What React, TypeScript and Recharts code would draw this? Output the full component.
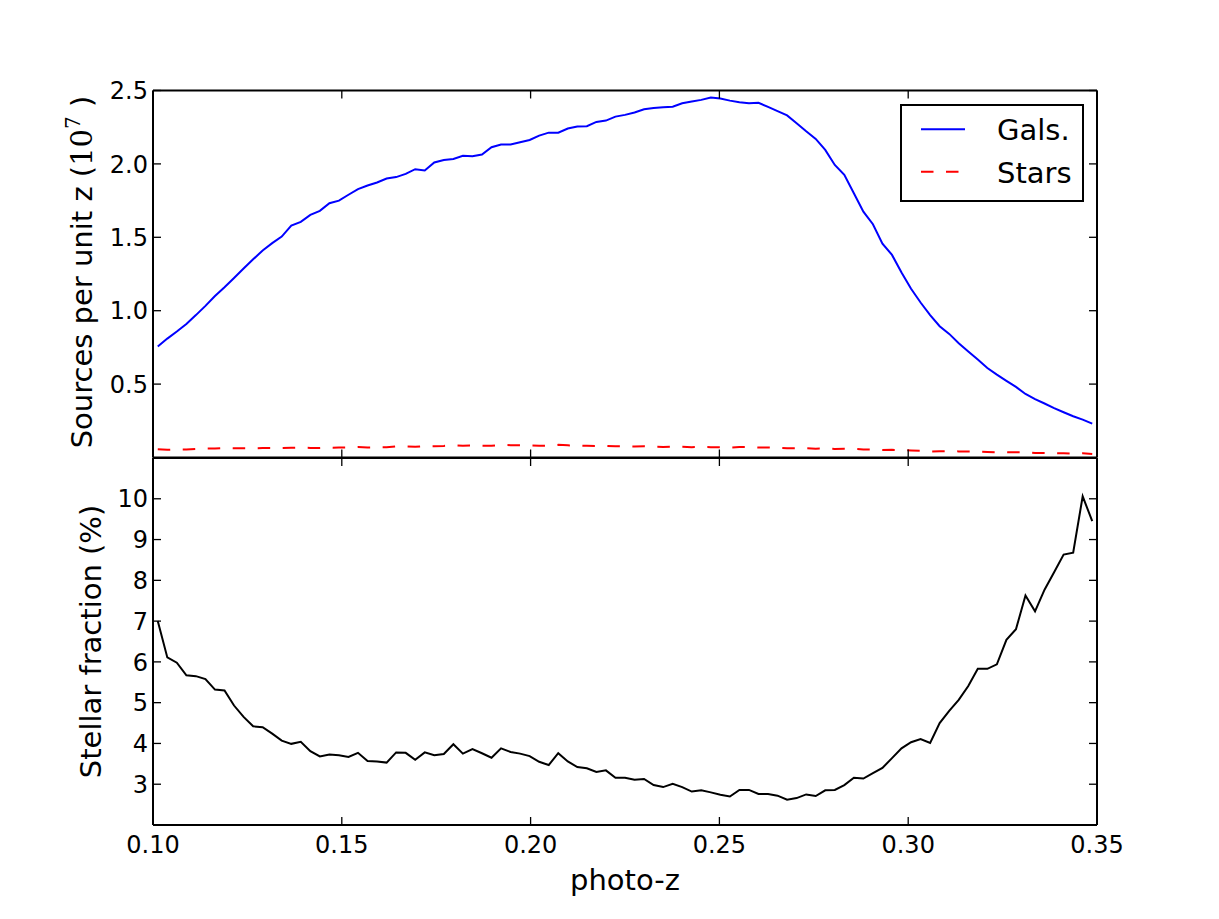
import React from 'react';
import { LineChart, Line, XAxis, YAxis, Legend } from 'recharts';

// photo-z bin centres
const PHOTO_Z = [
  0.10126, 0.10379, 0.10631, 0.10884, 0.11136, 0.11389, 0.11641, 0.11894, 0.12146, 0.12399,
  0.12652, 0.12904, 0.13157, 0.13409, 0.13662, 0.13914, 0.14167, 0.14419, 0.14672, 0.14924,
  0.15177, 0.15429, 0.15682, 0.15934, 0.16187, 0.16439, 0.16692, 0.16944, 0.17197, 0.17449,
  0.17702, 0.17955, 0.18207, 0.1846, 0.18712, 0.18965, 0.19217, 0.1947, 0.19722, 0.19975,
  0.20227, 0.2048, 0.20732, 0.20985, 0.21237, 0.2149, 0.21742, 0.21995, 0.22247, 0.225,
  0.22753, 0.23005, 0.23258, 0.2351, 0.23763, 0.24015, 0.24268, 0.2452, 0.24773, 0.25025,
  0.25278, 0.2553, 0.25783, 0.26035, 0.26288, 0.2654, 0.26793, 0.27045, 0.27298, 0.27551,
  0.27803, 0.28056, 0.28308, 0.28561, 0.28813, 0.29066, 0.29318, 0.29571, 0.29823, 0.30076,
  0.30328, 0.30581, 0.30833, 0.31086, 0.31338, 0.31591, 0.31843, 0.32096, 0.32348, 0.32601,
  0.32854, 0.33106, 0.33359, 0.33611, 0.33864, 0.34116, 0.34369, 0.34621, 0.34874,
];

// Sources per unit z (1e7)
const GALS = [
  0.756, 0.81, 0.858, 0.91, 0.97, 1.033, 1.1, 1.16, 1.223, 1.287,
  1.35, 1.41, 1.46, 1.505, 1.58, 1.605, 1.653, 1.68, 1.732, 1.75,
  1.79, 1.828, 1.853, 1.873, 1.9, 1.91, 1.932, 1.964, 1.955, 2.01,
  2.027, 2.034, 2.055, 2.052, 2.064, 2.114, 2.132, 2.132, 2.148, 2.163,
  2.193, 2.213, 2.213, 2.241, 2.254, 2.257, 2.286, 2.295, 2.322, 2.334,
  2.35, 2.372, 2.381, 2.386, 2.39, 2.413, 2.425, 2.436, 2.452, 2.445,
  2.431, 2.42, 2.413, 2.416, 2.388, 2.359, 2.33, 2.277, 2.222, 2.17,
  2.095, 1.993, 1.925, 1.8, 1.675, 1.589, 1.457, 1.38, 1.26, 1.149,
  1.056, 0.97, 0.894, 0.842, 0.778, 0.722, 0.667, 0.61, 0.565, 0.522,
  0.481, 0.433, 0.397, 0.368, 0.336, 0.308, 0.281, 0.258, 0.231,
];

const STARS = [
  0.0569, 0.0527, 0.0546, 0.0547, 0.0581, 0.061, 0.0618, 0.0649, 0.0634, 0.0628,
  0.0624, 0.0649, 0.0646, 0.0639, 0.0657, 0.0676, 0.0655, 0.0642, 0.0671, 0.0674,
  0.0682, 0.0716, 0.0686, 0.0691, 0.0695, 0.075, 0.0757, 0.0733, 0.0768, 0.0774,
  0.0788, 0.0843, 0.0801, 0.0824, 0.0806, 0.0801, 0.0861, 0.084, 0.0837, 0.0829,
  0.0807, 0.0796, 0.0865, 0.0827, 0.0798, 0.0792, 0.078, 0.0793, 0.0758, 0.0762,
  0.0754, 0.0766, 0.0731, 0.072, 0.0742, 0.0728, 0.0704, 0.0715, 0.0706, 0.0689,
  0.0675, 0.0712, 0.071, 0.0686, 0.0678, 0.066, 0.0627, 0.0622, 0.0628, 0.0604,
  0.0615, 0.0587, 0.0591, 0.0587, 0.0543, 0.0537, 0.0513, 0.0521, 0.0509, 0.0482,
  0.0453, 0.0405, 0.0421, 0.0425, 0.0416, 0.0413, 0.0413, 0.0378, 0.0357, 0.0365,
  0.0351, 0.0358, 0.031, 0.031, 0.03, 0.0291, 0.0267, 0.0289, 0.0241,
];

// Stellar fraction (%)
const STELLAR_FRACTION = [
  7.0, 6.11, 5.98, 5.67, 5.65, 5.58, 5.32, 5.3, 4.93, 4.65,
  4.42, 4.4, 4.24, 4.07, 3.99, 4.04, 3.81, 3.68, 3.73, 3.71,
  3.67, 3.77, 3.57, 3.56, 3.53, 3.78, 3.77, 3.6, 3.78, 3.71,
  3.74, 3.98, 3.75, 3.86, 3.76, 3.65, 3.88, 3.79, 3.75, 3.69,
  3.55, 3.47, 3.76, 3.56, 3.42, 3.39, 3.3, 3.34, 3.16, 3.16,
  3.11, 3.13, 2.98, 2.93, 3.01, 2.93, 2.82, 2.85, 2.8, 2.74,
  2.7, 2.86, 2.86, 2.76, 2.76, 2.72, 2.62, 2.66, 2.75, 2.71,
  2.85, 2.86, 2.98, 3.16, 3.14, 3.27, 3.4, 3.64, 3.88, 4.03,
  4.11, 4.01, 4.5, 4.8, 5.07, 5.41, 5.83, 5.83, 5.94, 6.54,
  6.8, 7.63, 7.24, 7.77, 8.2, 8.63, 8.68, 10.06, 9.45,
];

const X_TICKS = [0.1, 0.15, 0.2, 0.25, 0.3, 0.35];
const TOP_Y_TICKS = [0.5, 1.0, 1.5, 2.0, 2.5];
const BOTTOM_Y_TICKS = [3, 4, 5, 6, 7, 8, 9, 10];
const SERIES_NAMES = ['Gals.', 'Stars'];
const SERIES_COLORS = ['#0000ff', '#ff0000'];

const FONT = "'DejaVu Sans', sans-serif";
const TICK_LEN = 8;
const TICK_FONT = 24;
const LABEL_FONT = 29;

const topData = PHOTO_Z.map((z, i) => ({ z, gals: GALS[i], stars: STARS[i] }));
const bottomData = PHOTO_Z.map((z, i) => ({ z, frac: STELLAR_FRACTION[i] }));

const BottomXTick = (props: any) => {
  const { x, y, payload, showLabel } = props;
  return (
    <g>
      <line x1={x} y1={y} x2={x} y2={y - TICK_LEN} stroke="#000" strokeWidth={1.3} />
      {showLabel && (
        <text x={x} y={y + 27.5} textAnchor="middle" fontSize={TICK_FONT} fontFamily={FONT} fill="#000">
          {Number(payload.value).toFixed(2)}
        </text>
      )}
    </g>
  );
};

const TopXTick = (props: any) => {
  const { x, y } = props;
  return <line x1={x} y1={y} x2={x} y2={y + TICK_LEN} stroke="#000" strokeWidth={1.3} />;
};

const LeftYTick = (props: any) => {
  const { x, y, payload, decimals } = props;
  return (
    <g>
      <line x1={x} y1={y} x2={x + TICK_LEN} y2={y} stroke="#000" strokeWidth={1.3} />
      <text x={x - 5} y={y + 8.7} textAnchor="end" fontSize={TICK_FONT} fontFamily={FONT} fill="#000">
        {Number(payload.value).toFixed(decimals)}
      </text>
    </g>
  );
};

const RightYTick = (props: any) => {
  const { x, y } = props;
  return <line x1={x} y1={y} x2={x - TICK_LEN} y2={y} stroke="#000" strokeWidth={1.3} />;
};

const TopYLabel = () => (
  <text transform="translate(92,272) rotate(-90)" textAnchor="middle" fontSize={LABEL_FONT} fontFamily={FONT} fill="#000">
    Sources per unit z (
    <tspan fontFamily="'DejaVu Serif', serif">10</tspan>
    <tspan fontFamily="'DejaVu Serif', serif" fontSize={20} dy={-12}>7</tspan>
    <tspan dy={12}> )</tspan>
  </text>
);

const BottomYLabel = () => (
  <text transform="translate(101,641.5) rotate(-90)" textAnchor="middle" fontSize={LABEL_FONT} fontFamily={FONT} fill="#000">
    Stellar fraction (%)
  </text>
);

const XLabel = () => (
  <text x={625} y={890} textAnchor="middle" fontSize={LABEL_FONT} fontFamily={FONT} fill="#000">
    photo-z
  </text>
);

const renderLegend = (props: any) => {
  const payload = (props && props.payload) || [];
  const items = payload.length
    ? payload.map((p: any, i: number) => ({
        name: p.value,
        color: p.color,
        dashed: !!(p.payload && p.payload.strokeDasharray),
        i,
      }))
    : SERIES_NAMES.map((n, i) => ({ name: n, color: SERIES_COLORS[i], dashed: i === 1, i }));
  return (
    <svg width={184} height={98} style={{ display: 'block' }}>
      <rect x={1} y={1} width={182} height={96} fill="#fff" stroke="#000" strokeWidth={2} />
      {items.map((it: any) => (
        <g key={it.name}>
          <line
            x1={21}
            x2={65}
            y1={25.3 + it.i * 42.4}
            y2={25.3 + it.i * 42.4}
            stroke={it.color}
            strokeWidth={2}
            strokeDasharray={it.dashed ? '12.5 12.5' : undefined}
          />
          <text x={97} y={36 + it.i * 43} fontSize={LABEL_FONT} fontFamily={FONT} fill="#000">
            {it.name}
          </text>
        </g>
      ))}
    </svg>
  );
};

const axisLineStyle = { stroke: '#000', strokeWidth: 2 };

export default function App() {
  return (
    <div style={{ position: 'absolute', left: 0, top: 0, width: 1219, height: 919, background: '#fff', overflow: 'hidden' }}>
      <div style={{ position: 'absolute', left: 0, top: 0 }}>
        <LineChart width={1219} height={480} data={topData} margin={{ top: 70.5, right: 102, bottom: 0, left: 0 }}>
          <XAxis
            xAxisId="b"
            dataKey="z"
            type="number"
            domain={[0.1, 0.35]}
            ticks={X_TICKS}
            interval={0}
            height={22.5}
            tickSize={0}
            tickMargin={0}
            tickLine={false}
            axisLine={axisLineStyle}
            allowDataOverflow
            tick={(p: any) => <BottomXTick {...p} showLabel={false} />}
          />
          <XAxis
            xAxisId="t"
            orientation="top"
            dataKey="z"
            type="number"
            domain={[0.1, 0.35]}
            ticks={X_TICKS}
            interval={0}
            height={20}
            tickSize={0}
            tickMargin={0}
            tickLine={false}
            axisLine={axisLineStyle}
            allowDataOverflow
            tick={(p: any) => <TopXTick {...p} />}
          />
          <YAxis
            yAxisId="l"
            type="number"
            domain={[0, 2.5]}
            ticks={TOP_Y_TICKS}
            interval={0}
            width={153}
            tickSize={0}
            tickMargin={0}
            tickLine={false}
            axisLine={axisLineStyle}
            allowDataOverflow
            tick={(p: any) => <LeftYTick {...p} decimals={1} />}
            label={<TopYLabel />}
          />
          <YAxis
            yAxisId="r"
            orientation="right"
            type="number"
            domain={[0, 2.5]}
            ticks={TOP_Y_TICKS}
            interval={0}
            width={20}
            tickSize={0}
            tickMargin={0}
            tickLine={false}
            axisLine={axisLineStyle}
            allowDataOverflow
            tick={(p: any) => <RightYTick {...p} />}
          />
          <Line
            xAxisId="b"
            yAxisId="l"
            type="linear"
            dataKey="gals"
            name={SERIES_NAMES[0]}
            stroke={SERIES_COLORS[0]}
            strokeWidth={2}
            dot={false}
            activeDot={false}
            isAnimationActive={false}
          />
          <Line
            xAxisId="b"
            yAxisId="l"
            type="linear"
            dataKey="stars"
            name={SERIES_NAMES[1]}
            stroke={SERIES_COLORS[1]}
            strokeWidth={2}
            strokeDasharray="12.5 12.5"
            dot={false}
            activeDot={false}
            isAnimationActive={false}
          />
          <Legend
            layout="horizontal"
            verticalAlign="middle"
            align="center"
            content={renderLegend}
            wrapperStyle={{ left: 900, top: 104, width: 184, height: 98 }}
          />
        </LineChart>
      </div>
      <div style={{ position: 'absolute', left: 0, top: 0 }}>
        <LineChart width={1219} height={919} data={bottomData} margin={{ top: 438, right: 102, bottom: 0, left: 0 }}>
          <XAxis
            xAxisId="b"
            dataKey="z"
            type="number"
            domain={[0.1, 0.35]}
            ticks={X_TICKS}
            interval={0}
            height={94}
            tickSize={0}
            tickMargin={0}
            tickLine={false}
            axisLine={axisLineStyle}
            allowDataOverflow
            tick={(p: any) => <BottomXTick {...p} showLabel={true} />}
            label={<XLabel />}
          />
          <XAxis
            xAxisId="t"
            orientation="top"
            dataKey="z"
            type="number"
            domain={[0.1, 0.35]}
            ticks={X_TICKS}
            interval={0}
            height={20}
            tickSize={0}
            tickMargin={0}
            tickLine={false}
            axisLine={axisLineStyle}
            allowDataOverflow
            tick={(p: any) => <TopXTick {...p} />}
          />
          <YAxis
            yAxisId="l"
            type="number"
            domain={[2, 11]}
            ticks={BOTTOM_Y_TICKS}
            interval={0}
            width={153}
            tickSize={0}
            tickMargin={0}
            tickLine={false}
            axisLine={axisLineStyle}
            allowDataOverflow
            tick={(p: any) => <LeftYTick {...p} decimals={0} />}
            label={<BottomYLabel />}
          />
          <YAxis
            yAxisId="r"
            orientation="right"
            type="number"
            domain={[2, 11]}
            ticks={BOTTOM_Y_TICKS}
            interval={0}
            width={20}
            tickSize={0}
            tickMargin={0}
            tickLine={false}
            axisLine={axisLineStyle}
            allowDataOverflow
            tick={(p: any) => <RightYTick {...p} />}
          />
          <Line
            xAxisId="b"
            yAxisId="l"
            type="linear"
            dataKey="frac"
            name="Stellar fraction"
            stroke="#000"
            strokeWidth={2}
            dot={false}
            activeDot={false}
            isAnimationActive={false}
          />
        </LineChart>
      </div>
    </div>
  );
}
